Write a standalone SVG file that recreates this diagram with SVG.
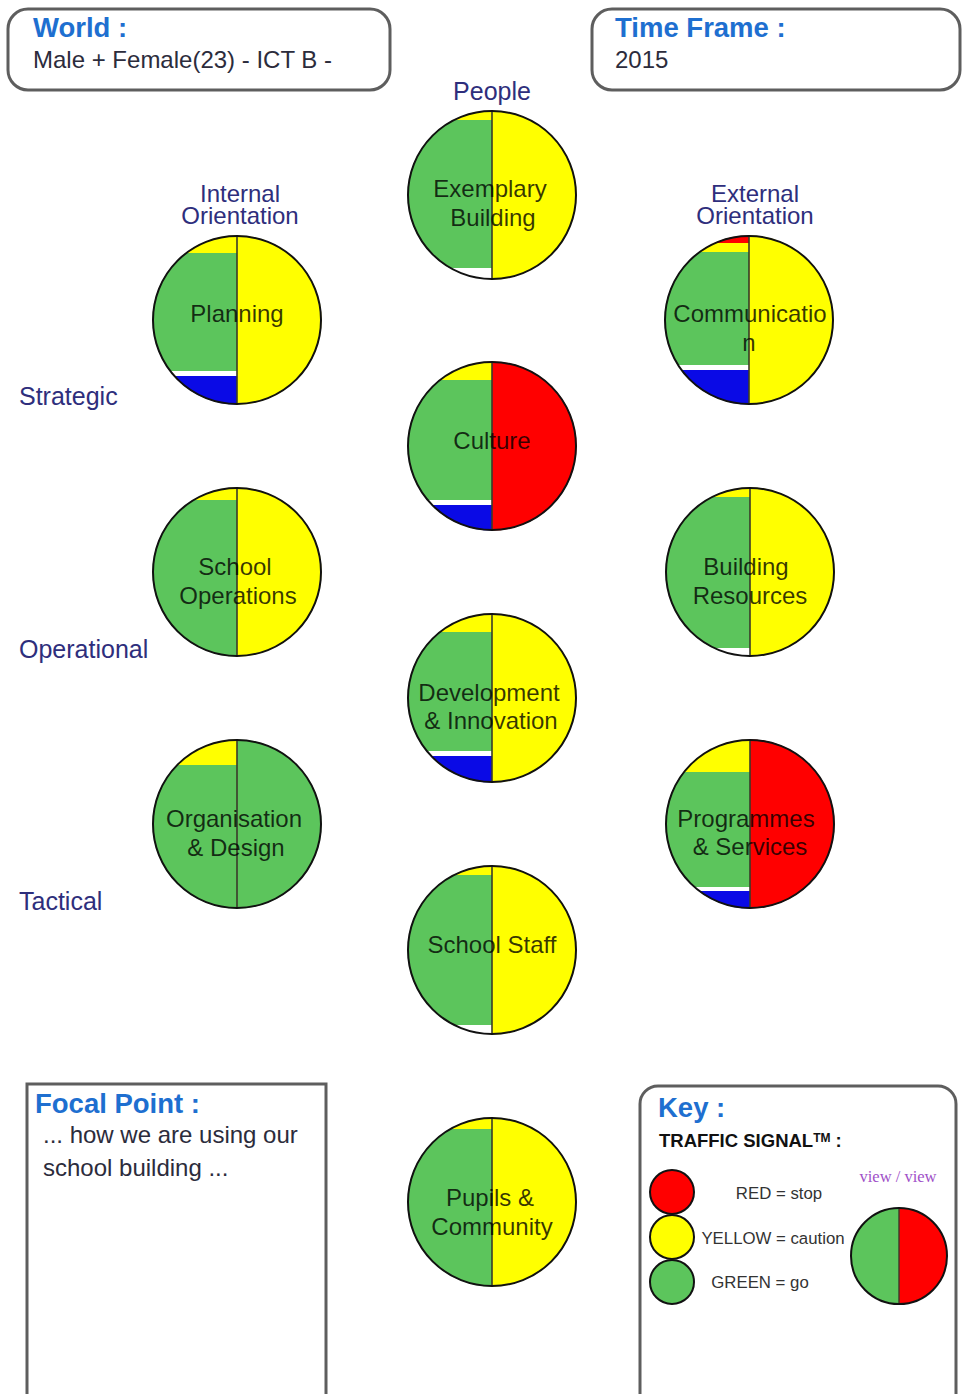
<svg xmlns="http://www.w3.org/2000/svg" width="962" height="1394" viewBox="0 0 962 1394">
  <style>
    .box { fill: #fff; stroke: #5e5e5e; stroke-width: 3; }
    .title { font-family: "Liberation Sans", Arial, sans-serif; font-weight: bold; font-size: 27.5px; fill: #1e6fd0; }
    .body { font-family: "Liberation Sans", Arial, sans-serif; font-size: 24px; fill: #2c2c3c; }
    .axis { font-family: "Liberation Sans", Arial, sans-serif; font-size: 25px; fill: #2e2e7c; }
    .axis2 { font-family: "Liberation Sans", Arial, sans-serif; font-size: 24px; fill: #2e2e7c; text-anchor: middle; }
    .lbl { font-family: "Liberation Sans", Arial, sans-serif; font-size: 24px; fill: #000; fill-opacity: 0.78; text-anchor: middle; }
    .rim { fill: none; stroke: #111; stroke-width: 2; }
    .div { stroke: #3a3a2a; stroke-width: 1.6; }
    .g { fill: #5cc55c; }
    .y { fill: #ffff00; }
    .r { fill: #ff0000; }
    .b { fill: #0a0ae6; }
    .w { fill: #ffffff; }
    .key { font-family: "Liberation Sans", Arial, sans-serif; font-size: 16.8px; fill: #333; text-anchor: middle; }
  </style>
  <defs>
    <clipPath id="disc"><circle cx="0" cy="0" r="84.5"/></clipPath>
  </defs>

  <rect width="962" height="1394" fill="#fff"/>

  <!-- header boxes -->
  <g id="world">
    <rect class="box" x="8" y="9" width="382" height="81" rx="20"/>
    <text class="title" x="33" y="37">World :</text>
    <text class="body" x="33" y="68">Male + Female(23) - ICT B -</text>
  </g>
  <g id="timeframe">
    <rect class="box" x="592" y="9" width="368" height="81" rx="20"/>
    <text class="title" x="615" y="37">Time Frame :</text>
    <text class="body" x="615" y="68">2015</text>
  </g>

  <!-- axis labels -->
  <g id="axes">
    <text class="axis" x="492" y="100" text-anchor="middle">People</text>
    <text class="axis2"><tspan x="240" y="202">Internal</tspan><tspan x="240" y="224">Orientation</tspan></text>
    <text class="axis2"><tspan x="755" y="202">External</tspan><tspan x="755" y="224">Orientation</tspan></text>
    <text class="axis" x="19" y="405">Strategic</text>
    <text class="axis" x="19" y="658">Operational</text>
    <text class="axis" x="19" y="910">Tactical</text>
  </g>

  <!-- rating discs: left half = stacked bands, right half = overall view -->
  <g id="planning" transform="translate(237,320)">
    <g clip-path="url(#disc)">
      <rect class="y" x="0" y="-85" width="85" height="170"/>
      <rect class="y" x="-85" y="-85" width="85" height="18"/>
      <rect class="g" x="-85" y="-67" width="85" height="118"/>
      <rect class="w" x="-85" y="51" width="85" height="5"/>
      <rect class="b" x="-85" y="56" width="85" height="29"/>
      <line class="div" x1="0" y1="-85" x2="0" y2="85"/>
    </g>
    <circle class="rim" r="84"/>
    <text class="lbl" x="0" y="2">Planning</text>
  </g>

  <g id="exemplary-building" transform="translate(492,195)">
    <g clip-path="url(#disc)">
      <rect class="y" x="0" y="-85" width="85" height="170"/>
      <rect class="y" x="-85" y="-85" width="85" height="10"/>
      <rect class="g" x="-85" y="-75" width="85" height="148"/>
      <rect class="w" x="-85" y="73" width="85" height="12"/>
      <line class="div" x1="0" y1="-85" x2="0" y2="85"/>
    </g>
    <circle class="rim" r="84"/>
    <text class="lbl" x="-2" y="2">Exemplary</text>
    <text class="lbl" x="1" y="31">Building</text>
  </g>

  <g id="communication" transform="translate(749,320)">
    <g clip-path="url(#disc)">
      <rect class="y" x="0" y="-85" width="85" height="170"/>
      <rect class="r" x="-85" y="-85" width="85" height="8"/>
      <rect class="y" x="-85" y="-77" width="85" height="9"/>
      <rect class="g" x="-85" y="-68" width="85" height="113"/>
      <rect class="w" x="-85" y="45" width="85" height="5"/>
      <rect class="b" x="-85" y="50" width="85" height="35"/>
      <line class="div" x1="0" y1="-85" x2="0" y2="85"/>
    </g>
    <circle class="rim" r="84"/>
    <text class="lbl" x="1" y="2">Communicatio</text>
    <text class="lbl" x="0" y="31">n</text>
  </g>

  <g id="culture" transform="translate(492,446)">
    <g clip-path="url(#disc)">
      <rect class="r" x="0" y="-85" width="85" height="170"/>
      <rect class="y" x="-85" y="-85" width="85" height="19"/>
      <rect class="g" x="-85" y="-66" width="85" height="120"/>
      <rect class="w" x="-85" y="54" width="85" height="5"/>
      <rect class="b" x="-85" y="59" width="85" height="26"/>
      <line class="div" x1="0" y1="-85" x2="0" y2="85"/>
    </g>
    <circle class="rim" r="84"/>
    <text class="lbl" x="0" y="3">Culture</text>
  </g>

  <g id="school-operations" transform="translate(237,572)">
    <g clip-path="url(#disc)">
      <rect class="y" x="0" y="-85" width="85" height="170"/>
      <rect class="y" x="-85" y="-85" width="85" height="13"/>
      <rect class="g" x="-85" y="-72" width="85" height="157"/>
      <line class="div" x1="0" y1="-85" x2="0" y2="85"/>
    </g>
    <circle class="rim" r="84"/>
    <text class="lbl" x="-2" y="3">School</text>
    <text class="lbl" x="1" y="32">Operations</text>
  </g>

  <g id="building-resources" transform="translate(750,572)">
    <g clip-path="url(#disc)">
      <rect class="y" x="0" y="-85" width="85" height="170"/>
      <rect class="y" x="-85" y="-85" width="85" height="10"/>
      <rect class="g" x="-85" y="-75" width="85" height="151"/>
      <rect class="w" x="-85" y="76" width="85" height="9"/>
      <line class="div" x1="0" y1="-85" x2="0" y2="85"/>
    </g>
    <circle class="rim" r="84"/>
    <text class="lbl" x="-4" y="3">Building</text>
    <text class="lbl" x="0" y="32">Resources</text>
  </g>

  <g id="development-innovation" transform="translate(492,698)">
    <g clip-path="url(#disc)">
      <rect class="y" x="0" y="-85" width="85" height="170"/>
      <rect class="y" x="-85" y="-85" width="85" height="19"/>
      <rect class="g" x="-85" y="-66" width="85" height="119"/>
      <rect class="w" x="-85" y="53" width="85" height="5"/>
      <rect class="b" x="-85" y="58" width="85" height="27"/>
      <line class="div" x1="0" y1="-85" x2="0" y2="85"/>
    </g>
    <circle class="rim" r="84"/>
    <text class="lbl" x="-3" y="3">Development</text>
    <text class="lbl" x="-1" y="31">&amp; Innovation</text>
  </g>

  <g id="organisation-design" transform="translate(237,824)">
    <g clip-path="url(#disc)">
      <rect class="g" x="0" y="-85" width="85" height="170"/>
      <rect class="y" x="-85" y="-85" width="85" height="26"/>
      <rect class="g" x="-85" y="-59" width="85" height="144"/>
      <line class="div" x1="0" y1="-85" x2="0" y2="85"/>
    </g>
    <circle class="rim" r="84"/>
    <text class="lbl" x="-3" y="3">Organisation</text>
    <text class="lbl" x="-1" y="32">&amp; Design</text>
  </g>

  <g id="programmes-services" transform="translate(750,824)">
    <g clip-path="url(#disc)">
      <rect class="r" x="0" y="-85" width="85" height="170"/>
      <rect class="y" x="-85" y="-85" width="85" height="33"/>
      <rect class="g" x="-85" y="-52" width="85" height="115"/>
      <rect class="w" x="-85" y="63" width="85" height="4"/>
      <rect class="b" x="-85" y="67" width="85" height="18"/>
      <line class="div" x1="0" y1="-85" x2="0" y2="85"/>
    </g>
    <circle class="rim" r="84"/>
    <text class="lbl" x="-4" y="3">Programmes</text>
    <text class="lbl" x="0" y="31">&amp; Services</text>
  </g>

  <g id="school-staff" transform="translate(492,950)">
    <g clip-path="url(#disc)">
      <rect class="y" x="0" y="-85" width="85" height="170"/>
      <rect class="y" x="-85" y="-85" width="85" height="10"/>
      <rect class="g" x="-85" y="-75" width="85" height="150"/>
      <rect class="w" x="-85" y="75" width="85" height="10"/>
      <line class="div" x1="0" y1="-85" x2="0" y2="85"/>
    </g>
    <circle class="rim" r="84"/>
    <text class="lbl" x="0" y="3">School Staff</text>
  </g>

  <g id="pupils-community" transform="translate(492,1202)">
    <g clip-path="url(#disc)">
      <rect class="y" x="0" y="-85" width="85" height="170"/>
      <rect class="y" x="-85" y="-85" width="85" height="12"/>
      <rect class="g" x="-85" y="-73" width="85" height="158"/>
      <line class="div" x1="0" y1="-85" x2="0" y2="85"/>
    </g>
    <circle class="rim" r="84"/>
    <text class="lbl" x="-2" y="4">Pupils &amp;</text>
    <text class="lbl" x="0" y="33">Community</text>
  </g>

  <!-- focal point panel -->
  <g id="focal-point">
    <rect class="box" x="27" y="1084" width="299" height="320"/>
    <text class="title" x="35" y="1113">Focal Point :</text>
    <text class="body" x="43" y="1143">... how we are using our</text>
    <text class="body" x="43" y="1176">school building ...</text>
  </g>

  <!-- key panel -->
  <g id="key">
    <rect class="box" x="640" y="1086" width="316" height="330" rx="18"/>
    <text class="title" x="658" y="1117">Key :</text>
    <text x="659" y="1147" font-family="'Liberation Sans', Arial, sans-serif" font-weight="bold" font-size="18.5" fill="#111">TRAFFIC SIGNAL<tspan font-size="12" dy="-5">TM</tspan><tspan dy="5"> :</tspan></text>
    <circle cx="672" cy="1192" r="22" fill="#ff0000" stroke="#111" stroke-width="2"/>
    <circle cx="672" cy="1237" r="22" fill="#ffff00" stroke="#111" stroke-width="2"/>
    <circle cx="672" cy="1282" r="22" fill="#5cc55c" stroke="#111" stroke-width="2"/>
    <text class="key" x="779" y="1199">RED = stop</text>
    <text class="key" x="773" y="1244">YELLOW = caution</text>
    <text class="key" x="760" y="1288">GREEN = go</text>
    <text x="898" y="1182" text-anchor="middle" font-family="'Liberation Serif', 'Times New Roman', serif" font-size="16.5" fill="#a050c8">view / view</text>
    <path d="M899 1208 A48 48 0 0 0 899 1304 Z" fill="#5cc55c"/>
    <path d="M899 1208 A48 48 0 0 1 899 1304 Z" fill="#ff0000"/>
    <line x1="899" y1="1208" x2="899" y2="1304" stroke="#3a3a2a" stroke-width="1.4"/>
    <circle cx="899" cy="1256" r="48" fill="none" stroke="#111" stroke-width="2"/>
  </g>
</svg>
